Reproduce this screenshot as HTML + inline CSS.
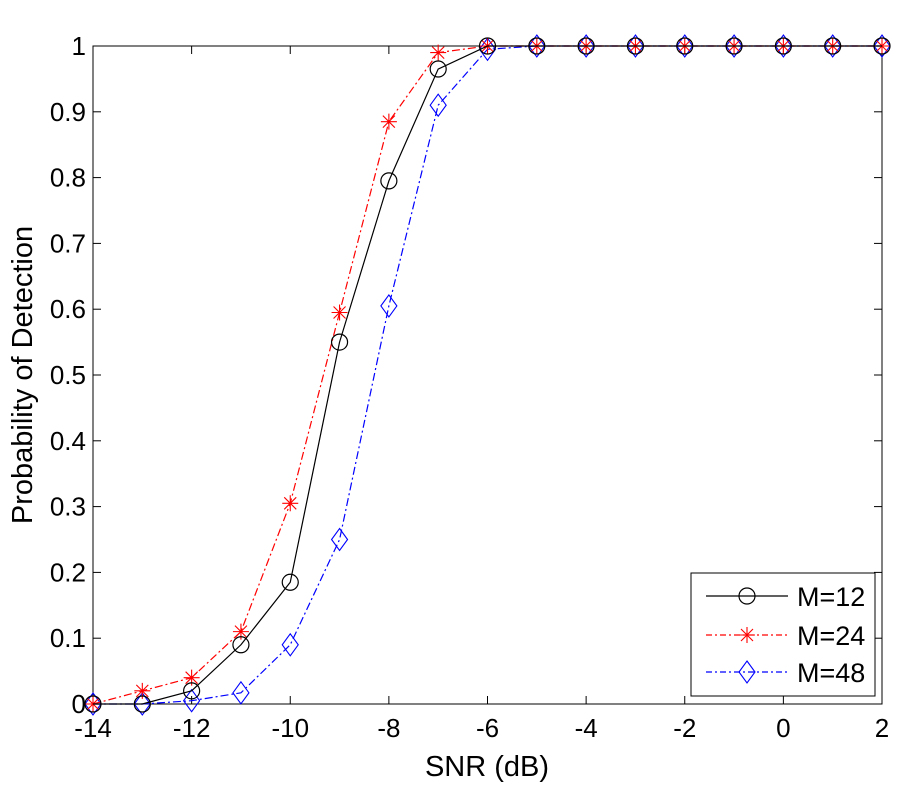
<!DOCTYPE html>
<html><head><style>body{margin:0;background:#fff}svg{display:block}text{font-family:"Liberation Sans",Arial,sans-serif}</style></head>
<body>
<svg id="s" width="900" height="800" xmlns="http://www.w3.org/2000/svg"></svg>
<script>
const s=document.getElementById('s');
const X0=93,X1=882,Y0=704,Y1=46;
const fx=v=>X0+(v+14)/16*(X1-X0), fy=v=>Y0-v*(Y0-Y1);
let h='<rect x="'+X0+'" y="'+Y1+'" width="'+(X1-X0)+'" height="'+(Y0-Y1)+'" fill="#fff" stroke="#000" stroke-width="1"/>';
for(let v=-14;v<=2;v+=2){const x=fx(v);h+=`<line x1="${x}" y1="${Y0}" x2="${x}" y2="${Y0-8}" stroke="#000"/><line x1="${x}" y1="${Y1}" x2="${x}" y2="${Y1+8}" stroke="#000"/><text x="${x}" y="${Y0+33}" font-size="26" text-anchor="middle">${v}</text>`;}
for(let i=0;i<=10;i++){const v=i/10,y=fy(v);h+=`<line x1="${X0}" y1="${y}" x2="${X0+8}" y2="${y}" stroke="#000"/><line x1="${X1}" y1="${y}" x2="${X1-8}" y2="${y}" stroke="#000"/><text x="${X0-7}" y="${y+9}" font-size="26" text-anchor="end">${i==0?'0':i==10?'1':'0.'+i}</text>`;}
h+=`<text x="487" y="776" font-size="29" text-anchor="middle">SNR (dB)</text>`;
h+=`<text transform="translate(32,375) rotate(-90)" font-size="29" text-anchor="middle">Probability of Detection</text>`;
const xs=[];for(let v=-14;v<=2;v++)xs.push(v);
const d12=[0,0,0.02,0.09,0.185,0.55,0.795,0.965,1,1,1,1,1,1,1,1,1];
const d24=[0,0.02,0.04,0.11,0.305,0.595,0.885,0.99,1,1,1,1,1,1,1,1,1];
const d48=[0,0,0.005,0.017,0.09,0.25,0.605,0.91,0.995,1,1,1,1,1,1,1,1];
function mk(t,x,y,c){
 if(t=='o')return `<circle cx="${x}" cy="${y}" r="8" fill="none" stroke="${c}" stroke-width="1.2"/>`;
 if(t=='*')return `<path d="M${x-8} ${y}H${x+8}M${x} ${y-8}V${y+8}M${x-6} ${y-6}L${x+6} ${y+6}M${x-6} ${y+6}L${x+6} ${y-6}" stroke="${c}" stroke-width="1.1"/>`;
 return `<path d="M${x} ${y-11}L${x+8} ${y}L${x} ${y+11}L${x-8} ${y}Z" fill="none" stroke="${c}" stroke-width="1.1"/>`;
}
function ser(d,c,da,t){
 h+=`<polyline points="${xs.map((v,i)=>fx(v)+','+fy(d[i])).join(' ')}" fill="none" stroke="${c}" stroke-width="1.2" ${da?'stroke-dasharray="'+da+'"':''}/>`;
 xs.forEach((v,i)=>h+=mk(t,fx(v),fy(d[i]),c));
}
ser(d48,'#00f','8,3,2,3','d');
ser(d24,'#f00','8,3,2,3','*');
ser(d12,'#000','','o');
h+=`<rect x="691" y="573" width="184" height="123" fill="#fff" stroke="#000" stroke-width="1"/>`;
[[596,'#000','','o','M=12'],[635,'#f00','6,3,2,3','*','M=24'],[672,'#00f','6,3,2,3','d','M=48']].forEach(r=>{
 h+=`<line x1="706" y1="${r[0]}" x2="788" y2="${r[0]}" stroke="${r[1]}" stroke-width="1.2" ${r[2]?'stroke-dasharray="'+r[2]+'"':''}/>`+mk(r[3],747,r[0],r[1])+`<text x="797" y="${r[0]+10}" font-size="27">${r[4]}</text>`;
});
s.innerHTML=h;
</script>
</body></html>
